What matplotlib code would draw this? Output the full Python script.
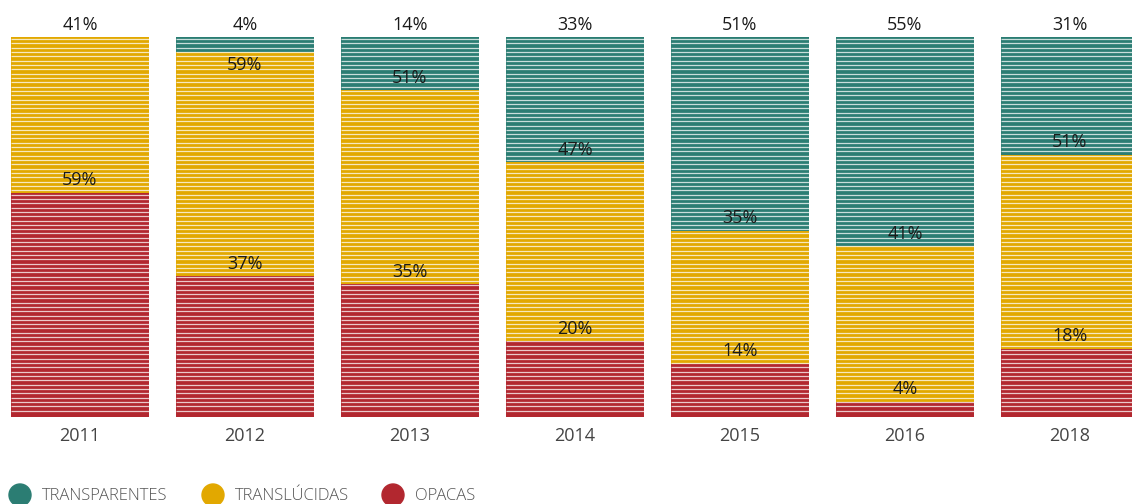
import matplotlib
matplotlib.use("Agg")
import matplotlib.pyplot as plt
from matplotlib.patches import Ellipse
import numpy as np

plt.rcParams['font.family'] = ['Open Sans', 'DejaVu Sans']

years = ['2011', '2012', '2013', '2014', '2015', '2016', '2018']
transparentes = [0, 4, 14, 33, 51, 55, 31]
translucidas = [41, 59, 51, 47, 35, 41, 51]
opacas = [59, 37, 35, 20, 14, 4, 18]
series_names = ['TRANSPARENTES', 'TRANSLÚCIDAS', 'OPACAS']
colors = ['#2b7d73', '#e2a800', '#b2272f']

W, H = 1132, 504
fig = plt.figure(figsize=(W / 100, H / 100), dpi=100)
ax = fig.add_axes([0, (H - 417) / H, 1, 380 / H])

x = np.arange(len(years))
width = 138 / 165
ax.set_xlim(-80 / 165, (W - 80) / 165)
ax.set_ylim(0, 100)

# stack from bottom: opacas, translucidas, transparentes
stack = [opacas, translucidas, transparentes]
stack_colors = [colors[2], colors[1], colors[0]]
bottom = np.zeros(len(years))
tops = []
for vals, col in zip(stack, stack_colors):
    vals = np.array(vals, dtype=float)
    ax.bar(x, vals, width=width, bottom=bottom, color=col, edgecolor='none')
    tops.append((bottom.copy(), vals.copy()))
    bottom += vals

# labels: at top edge of each segment; if the segment above is tiny, put it inside
for level, (b, v) in enumerate(tops):
    for i, xi in enumerate(x):
        if v[i] <= 0:
            continue
        top = b[i] + v[i]
        above = 100 - top if level < len(tops) - 1 else 100
        if level < len(tops) - 1 and 0 < (100 - top) < 8:
            ax.text(xi, top - 1.0, f"{int(v[i])}%", ha='center', va='top',
                    fontsize=13, color='#1a1a1a', clip_on=False)
        else:
            ax.text(xi, top + 0.9, f"{int(v[i])}%", ha='center', va='bottom',
                    fontsize=13, color='#1a1a1a', clip_on=False)

# horizontal stripe texture
n_stripes = 88
ys = np.linspace(0, 100, n_stripes + 1)[1:-1] + 100 / n_stripes * 0.5
for xi in x:
    ax.hlines(ys, xi - width / 2, xi + width / 2, colors='white', linewidth=0.9, alpha=0.75)

ax.axis('off')

for xi, yr in zip(x, years):
    ax.text(xi, -2.6, yr, ha='center', va='top', fontsize=13, color='#444444', clip_on=False)

# legend
leg_x = [20, 213, 393]
for lx, name, col in zip(leg_x, series_names, colors):
    fig.add_artist(Ellipse((lx / W, 1 - 495 / H), 22 / W, 22 / H,
                           transform=fig.transFigure, color=col))
    fig.text((lx + 22) / W, 1 - 496 / H, name, ha='left', va='center', fontsize=12,
             color='#555555', fontweight='light')

fig.savefig('out.png', dpi=100)
